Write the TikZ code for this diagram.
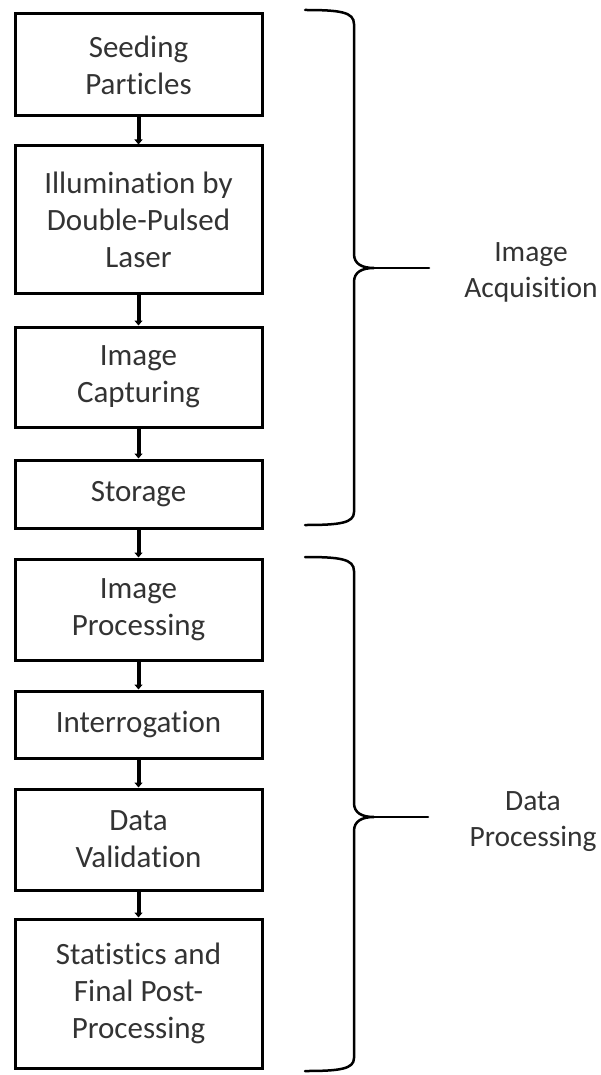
\documentclass[tikz,border=0pt]{standalone}
\usepackage{fontspec}
\setmainfont[Ligatures=NoCommon]{Carlito}
\usetikzlibrary{arrows.meta}

\tikzset{
    stage/.style={draw,line width=3pt,minimum width=247pt,align=center,text=black!80,font=\fontsize{31}{37}\selectfont},
    flow/.style={line width=4pt,-{Triangle[length=5pt,width=8pt]}},
    bracket/.style={line width=2.5pt,line cap=round},
    phase/.style={align=center,text=black!80,font=\fontsize{29.5}{36}\selectfont}
}

\begin{document}
\begin{tikzpicture}[x=1pt,y=-1pt]
    \useasboundingbox(0,0)rectangle(600,1075);

    \node[stage,minimum height=102pt](seed)at(138.5,65){Seeding\\Particles};
    \node[stage,minimum height=147pt](laser)at(138.5,219.5){Illumination by\\Double-Pulsed\\Laser};
    \node[stage,minimum height=100pt](capt)at(138.5,377){Image\\Capturing};
    \node[stage,minimum height=68pt](store)at(138.5,494){Storage};
    \node[stage,minimum height=101pt](improc)at(138.5,609.5){Image\\Processing};
    \node[stage,minimum height=67pt](interr)at(138.5,724.5){Interrogation};
    \node[stage,minimum height=101pt](valid)at(138.5,839.5){Data\\Validation};
    \node[stage,minimum height=149pt](stats)at(138.5,993.5){Statistics and\\Final Post-\\Processing};

    \draw[flow](seed)--(laser);
    \draw[flow](laser)--(capt);
    \draw[flow](capt)--(store);
    \draw[flow](store)--(improc);
    \draw[flow](improc)--(interr);
    \draw[flow](interr)--(valid);
    \draw[flow](valid)--(stats);

    % upper brace
    \draw[bracket](305,10)..controls(340,10)and(354,12)..(354,24)--(354,254)
        ..controls(354,264)and(362,268)..(374,268)
        ..controls(362,268)and(354,272)..(354,282)--(354,512)
        ..controls(354,523)and(340,525)..(305,525);
    \coordinate(acqtip)at(429,268);
    \draw[bracket](374,268)--(acqtip);
    \node[phase](acq)at(531,272){Image\\Acquisition};

    % lower brace
    \draw[bracket](305,557)..controls(340,557)and(354,559)..(354,571)--(354,803)
        ..controls(354,813)and(362,817)..(374,817)
        ..controls(362,817)and(354,821)..(354,831)--(354,1058)
        ..controls(354,1069)and(340,1071)..(305,1071);
    \coordinate(proctip)at(428,817);
    \draw[bracket](374,817)--(proctip);
    \node[phase](proc)at(533,822){Data\\Processing};
\end{tikzpicture}
\end{document}
